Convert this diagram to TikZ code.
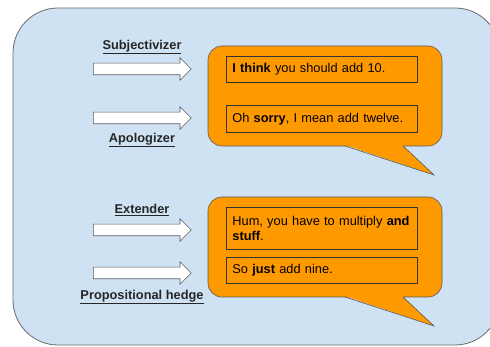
\documentclass[tikz,border=0pt]{standalone}
\usepackage{fontspec}
\setmainfont{Liberation Sans}
\usetikzlibrary{shapes.arrows}
\definecolor{bgblue}{HTML}{CFE2F3}
\definecolor{orng}{HTML}{FF9900}
\definecolor{edgegray}{HTML}{595959}
\definecolor{boxedge}{HTML}{333333}
\begin{document}
\begin{tikzpicture}[x=1pt,y=-1pt,
  lbl/.style={font=\fontsize{12.8}{15}\selectfont\bfseries, text=black!85, inner sep=0pt},
  blockarrow/.style={single arrow, draw=edgegray, fill=white, line width=0.6pt,
    single arrow head extend=5.5pt, single arrow head indent=0pt,
    minimum height=98pt, inner xsep=0pt, inner ysep=5.5pt, anchor=west},
  bubble/.style={draw=edgegray, fill=orng, line width=0.6pt},
  saybox/.style={draw=boxedge, fill=orng, line width=0.8pt, anchor=north west,
    minimum width=191pt, inner xsep=6pt, inner ysep=0pt, text width=179pt, align=left,
    font=\fontsize{12.8}{14.5}\selectfont, text=black}
]
\useasboundingbox (0,0) rectangle (490,347);
\clip (0,0) rectangle (490,347);
% outer panel
\draw[fill=bgblue, draw=edgegray!90, line width=0.8pt, rounded corners=45pt] (13,8) rectangle (500,345);

% bubble 1
\draw[bubble, rounded corners=14pt] (208,46) rectangle (442,146);
\fill[orng] (345.5,145.2) -- (434,175) -- (402.5,145.2) -- cycle;
\draw[edgegray, line width=0.6pt, line join=miter] (345,146) -- (434,175) -- (403,146);

% bubble 2
\draw[bubble, rounded corners=14pt] (208,197) rectangle (442,297);
\fill[orng] (345.5,296.2) -- (434,326) -- (402.5,296.2) -- cycle;
\draw[edgegray, line width=0.6pt, line join=miter] (345,297) -- (434,326) -- (403,297);

% statement boxes
\node[saybox, minimum height=26pt] (s1) at (226,56) {\textbf{I think} you should add 10.};
\node[saybox, minimum height=27pt] (s2) at (226,105) {Oh \textbf{sorry}, I mean add twelve.};
\node[saybox, minimum height=42pt] (s3) at (226,207) {Hum, you have to multiply \textbf{and}\\\textbf{stuff}.};
\node[saybox, minimum height=26pt] (s4) at (226,257) {So \textbf{just} add nine.};

% arrows
\node[blockarrow] (a1) at (93,69) {};
\node[blockarrow] (a2) at (93,118) {};
\node[blockarrow] (a3) at (93,230) {};
\node[blockarrow] (a4) at (93,273) {};

% labels
\node[lbl] (l1) at (142,47) {\underline{Subjectivizer}};
\node[lbl] (l2) at (142,140) {\underline{Apologizer}};
\node[lbl] (l3) at (142,210) {\underline{Extender}};
\node[lbl] (l4) at (142,297) {\underline{Propositional hedge}};
\end{tikzpicture}
\end{document}
